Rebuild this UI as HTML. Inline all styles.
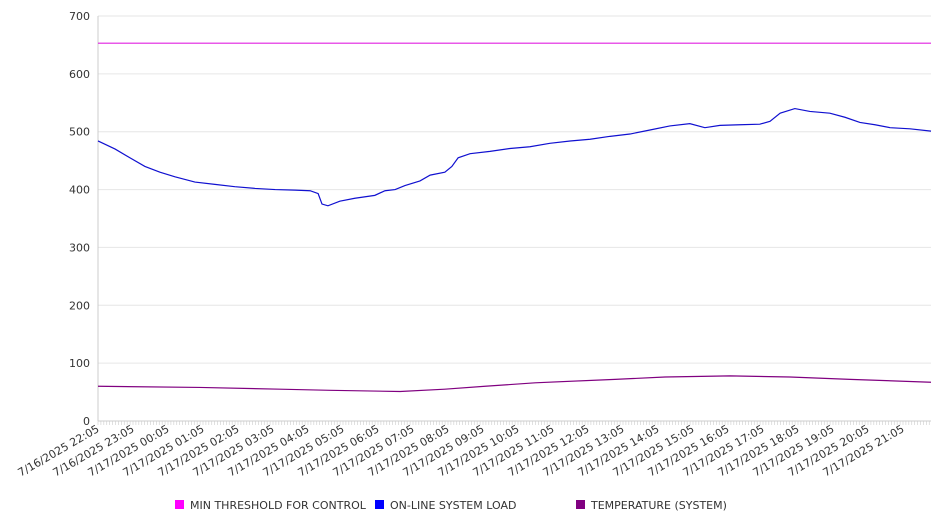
<!DOCTYPE html>
<html><head><meta charset="utf-8"><style>
body{margin:0;background:#fff;font-family:"DejaVu Sans","Liberation Sans",sans-serif;}
svg text{font-family:"DejaVu Sans","Liberation Sans",sans-serif;}
</style></head><body>
<svg id="chart" width="946" height="526" xmlns="http://www.w3.org/2000/svg"></svg>
<script>
const yTicks=[0,100,200,300,400,500,600,700];
const xLabels=["7/16/2025 22:05","7/16/2025 23:05","7/17/2025 00:05","7/17/2025 01:05","7/17/2025 02:05","7/17/2025 03:05","7/17/2025 04:05","7/17/2025 05:05","7/17/2025 06:05","7/17/2025 07:05","7/17/2025 08:05","7/17/2025 09:05","7/17/2025 10:05","7/17/2025 11:05","7/17/2025 12:05","7/17/2025 13:05","7/17/2025 14:05","7/17/2025 15:05","7/17/2025 16:05","7/17/2025 17:05","7/17/2025 18:05","7/17/2025 19:05","7/17/2025 20:05","7/17/2025 21:05"];
const loadHours=[0,0.49,0.91,1.34,1.77,2.2,2.77,3.34,3.91,4.49,5.06,5.63,6.06,6.29,6.4,6.57,6.91,7.34,7.91,8.2,8.49,8.77,9.2,9.49,9.91,10.11,10.29,10.63,11.2,11.77,12.34,12.91,13.49,14.06,14.63,15.2,15.77,16.34,16.91,17.34,17.77,18.34,18.91,19.2,19.49,19.91,20.34,20.91,21.34,21.77,22.2,22.63,23.2,23.8];
const loadValues=[484,470,455,440,430,422,413,409,405,402,400,399,398,393,375,372,380,385,390,398,400,407,415,425,430,440,455,462,466,471,474,480,484,487,492,496,503,510,514,507,511,512,513,518,532,540,535,532,525,516,512,507,505,501];
const tempHours=[0,2.91,5.2,6.63,8.63,9.91,11.06,12.49,14.77,16.2,18.06,19.77,21.49,23.8];
const tempValues=[60,58,55,53,51,55,60,66,72,76,78,76,72,67];
const thresholdValue=653;
const X0=98,X1=931,Y0=421,Y1=16,HMAX=23.8;
const xs=h=>X0+(h/HMAX)*(X1-X0);
const ys=v=>Y0-(v/700)*(Y0-Y1);
const svg=document.getElementById('chart');
const NS='http://www.w3.org/2000/svg';
function mk(t,a,p){const e=document.createElementNS(NS,t);for(const k in a)e.setAttribute(k,a[k]);(p||svg).appendChild(e);return e;}
yTicks.forEach(v=>{
  const g=mk('line',{x1:X0,x2:X1,y1:ys(v),y2:ys(v),stroke:'#e6e6e6','stroke-width':1});
  
  
  const t=mk('text',{x:90,y:ys(v)+4,'text-anchor':'end','font-size':11,fill:'#333'});
  t.textContent=v;
  
  
});
const ax=mk('line',{x1:X0,x2:X0,y1:Y1,y2:Y0,stroke:'#ccc'});


const xax=mk('line',{x1:X0,x2:X1,y1:Y0,y2:Y0,stroke:'#ccc'});


for(let m=0;m<=HMAX*60;m+=5){const tk=mk('line',{x1:xs(m/60),x2:xs(m/60),y1:Y0,y2:Y0+4,stroke:'#ccc','stroke-width':0.6});
  
  }
xLabels.forEach((l,i)=>{const x=xs(i)+2,y=Y0+10;
  const t=mk('text',{x:x,y:y,'text-anchor':'end','font-size':11,fill:'#333',transform:`rotate(-30 ${x} ${y})`});
  t.textContent=l;
  
  });
const th=mk('line',{x1:X0,x2:X1,y1:ys(thresholdValue),y2:ys(thresholdValue),stroke:'#e020e0','stroke-width':1.2});


const lp=mk('polyline',{points:loadHours.map((h,i)=>xs(h)+','+ys(loadValues[i])).join(' '),fill:'none',stroke:'#1010d0','stroke-width':1.2});


const tp=mk('polyline',{points:tempHours.map((h,i)=>xs(h)+','+ys(tempValues[i])).join(' '),fill:'none',stroke:'#800080','stroke-width':1.2});


[["MIN THRESHOLD FOR CONTROL","#ff00ff",175],["ON-LINE SYSTEM LOAD","#0000ff",375],["TEMPERATURE (SYSTEM)","#800080",576]].forEach(([n,c,x])=>{
  const r=mk('rect',{x:x,y:500,width:9,height:9,fill:c});
  
  
  const t=mk('text',{x:x+15,y:509,'font-size':11,fill:'#333'});
  t.textContent=n;
  
  
});
</script>
</body></html>
